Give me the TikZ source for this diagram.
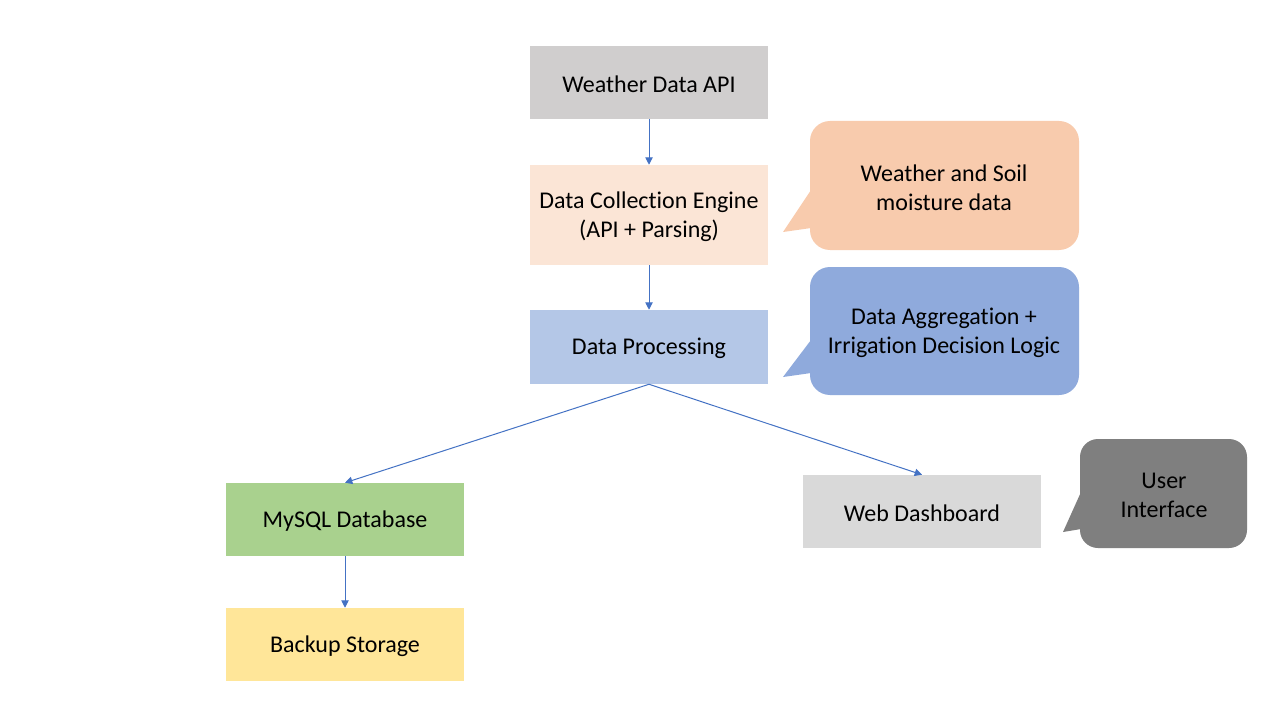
\documentclass[tikz,border=0pt]{standalone}
\usepackage{fontspec}
\setmainfont{Carlito}[Ligatures={NoCommon}]
\usetikzlibrary{arrows.meta}
\definecolor{cApi}{HTML}{D0CECE}
\definecolor{cCol}{HTML}{FBE5D6}
\definecolor{cProc}{HTML}{B4C7E7}
\definecolor{cSql}{HTML}{A9D18E}
\definecolor{cBak}{HTML}{FFE699}
\definecolor{cWeb}{HTML}{D9D9D9}
\definecolor{cCall1}{HTML}{F8CBAD}
\definecolor{cCall2}{HTML}{8FAADC}
\definecolor{cCall3}{HTML}{7F7F7F}
\definecolor{cArr}{HTML}{4472C4}
\begin{document}
\begin{tikzpicture}[x=0.75pt,y=-0.75pt,
  box/.style={rectangle, draw=none, minimum width=238*0.75pt, minimum height=73*0.75pt, inner sep=0pt, align=center, font=\fontsize{18}{21.75}\selectfont, text=black},
  boxtext/.style={align=center, inner sep=0pt, font=\fontsize{18}{21.75}\selectfont, text=black},
  calltext/.style={align=center, inner sep=0pt, font=\fontsize{18}{21.75}\selectfont, text=black},
  conn/.style={draw=cArr, line width=0.75pt, -{Triangle[width=5.5pt,length=5.5pt]}}]
\useasboundingbox (0,0) rectangle (1280,720);
\fill[white] (0,0) rectangle (1280,720);

% main boxes
\node[box, fill=cApi] (api) at (649,82.5) {};
\node[box, fill=cCol, minimum height=100*0.75pt] (col) at (649,215) {};
\node[box, fill=cProc, minimum height=74*0.75pt] (proc) at (649,347) {};
\node[box, fill=cSql] (sql) at (345,519.5) {};
\node[box, fill=cBak] (bak) at (345,644.5) {};
\node[box, fill=cWeb] (web) at (922,511.5) {};

\node[boxtext] (apit) at (649,84) {Weather Data API};
\node[boxtext] (colt) at (649,216.5) {Data Collection Engine\\(API + Parsing)};
\node[boxtext] (proct) at (649,348.5) {Data Processing};
\node[boxtext] (sqlt) at (345,521) {MySQL Database};
\node[boxtext] (bakt) at (345,646) {Backup Storage};
\node[boxtext] (webt) at (922,513) {Web Dashboard};

% callouts
\fill[cCall1, rounded corners=20*0.75pt] (810,121) rectangle (1079,250);
\fill[cCall1] (811,190) -- (783,232) -- (811,228) -- cycle;
\node[calltext] (c1) at (944,187.5) {Weather and Soil\\moisture data};

\fill[cCall2, rounded corners=20*0.75pt] (810,267) rectangle (1079,395);
\fill[cCall2] (811,340) -- (783,377) -- (811,373) -- cycle;
\node[calltext] (c2) at (944,332.5) {Data Aggregation +\\Irrigation Decision Logic};

\fill[cCall3, rounded corners=18*0.75pt] (1080,439) rectangle (1247,548);
\fill[cCall3] (1081,492) -- (1063,532) -- (1081,529) -- cycle;
\node[calltext] (c3) at (1164,495.5) {User\\Interface};

% connectors
\draw[conn] (api.south) -- (col.north);
\draw[conn] (col.south) -- (proc.north);
\draw[conn] (proc.south) -- (sql.north);
\draw[conn] (proc.south) -- (web.north);
\draw[conn] (sql.south) -- (bak.north);
\end{tikzpicture}
\end{document}
